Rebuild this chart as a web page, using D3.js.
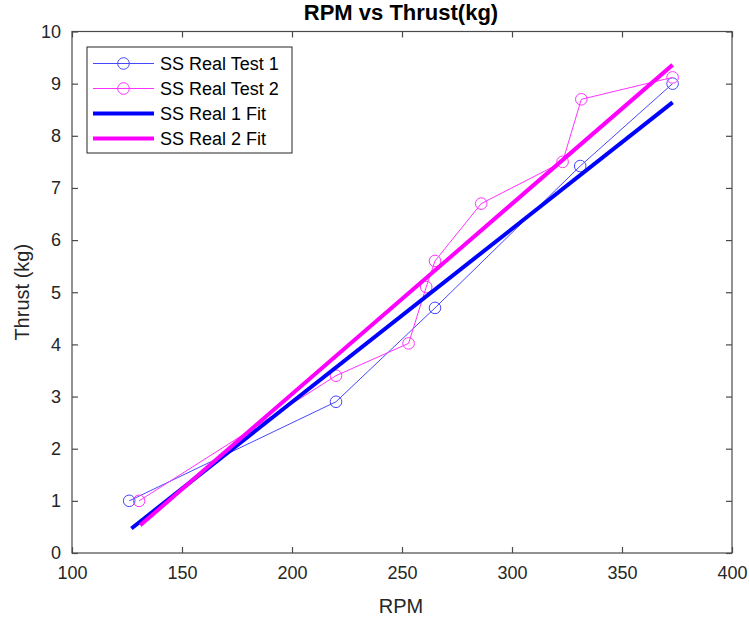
<!DOCTYPE html>
<html><head><meta charset="utf-8">
<script src="https://cdn.jsdelivr.net/npm/d3@7"></script>
<style>body{margin:0;background:#fff}svg{display:block}text{font-family:"Liberation Sans",Arial,sans-serif}</style>
</head><body><svg id="c" width="749" height="619"></svg>
<script>
// Data
const test1RPM = [126, 220, 265, 331, 373];
const test1Thrust = [1.0, 2.9, 4.7, 7.42, 9.0];
const test2RPM = [130.5, 220, 253, 261, 265, 286, 323, 331.5, 373];
const test2Thrust = [1.0, 3.4, 4.02, 5.1, 5.6, 6.7, 7.5, 8.7, 9.12];
const fit1RPM = [127, 373];
const fit1Thrust = [0.47, 8.64];
const fit2RPM = [131, 373];
const fit2Thrust = [0.53, 9.36];
const xTicks = [100, 150, 200, 250, 300, 350, 400];
const yTicks = [0, 1, 2, 3, 4, 5, 6, 7, 8, 9, 10];
const seriesNames = ["SS Real Test 1", "SS Real Test 2", "SS Real 1 Fit", "SS Real 2 Fit"];

const svg = d3.select("#c");
const L = 72, R = 732, T = 31.5, B = 553;
const x = d3.scaleLinear().domain([100, 400]).range([L, R]);
const y = d3.scaleLinear().domain([0, 10]).range([B, T]);
const axCol = "#4a4a4a", txtCol = "#262626";

// box
svg.append("rect").attr("x", L).attr("y", T).attr("width", R - L).attr("height", B - T)
  .attr("fill", "#fff").attr("stroke", axCol).attr("stroke-width", 1.2);

function styleAxis(g, hideText) {
  g.select(".domain").remove();
  g.selectAll("line").attr("stroke", axCol).attr("stroke-width", 1.2);
  g.selectAll("text").attr("fill", txtCol).style("font-size", "18px");
  if (hideText) g.selectAll("text").remove();
}
svg.append("g").attr("transform", `translate(0,${B})`)
  .call(d3.axisBottom(x).tickValues(xTicks).tickSize(-6).tickPadding(13).tickFormat(d3.format("d")))
  .call(g => styleAxis(g));
svg.append("g").attr("transform", `translate(0,${T})`)
  .call(d3.axisTop(x).tickValues(xTicks).tickSize(-6)).call(g => styleAxis(g, true));
svg.append("g").attr("transform", `translate(${L},0)`)
  .call(d3.axisLeft(y).tickValues(yTicks).tickSize(-6).tickPadding(11).tickFormat(d3.format("d")))
  .call(g => styleAxis(g));
svg.append("g").attr("transform", `translate(${R},0)`)
  .call(d3.axisRight(y).tickValues(yTicks).tickSize(-6)).call(g => styleAxis(g, true));

const line = d3.line().x(d => x(d[0])).y(d => y(d[1]));
const zip = (a, b) => a.map((v, i) => [v, b[i]]);

const c1 = "#4747ff", c2 = "#ff33ff";
// data series
function drawData(xs, ys, col) {
  const pts = zip(xs, ys);
  svg.append("path").datum(pts).attr("d", line).attr("fill", "none").attr("stroke", col).attr("stroke-width", 1);
  svg.append("g").selectAll("circle").data(pts).join("circle")
    .attr("cx", d => x(d[0])).attr("cy", d => y(d[1])).attr("r", 5.8)
    .attr("fill", "none").attr("stroke", col).attr("stroke-width", 1);
}
drawData(test1RPM, test1Thrust, c1);
drawData(test2RPM, test2Thrust, c2);
svg.append("path").datum(zip(fit1RPM, fit1Thrust)).attr("d", line).attr("fill", "none").attr("stroke", "#0000ff").attr("stroke-width", 4);
svg.append("path").datum(zip(fit2RPM, fit2Thrust)).attr("d", line).attr("fill", "none").attr("stroke", "#ff00ff").attr("stroke-width", 4);

// title & labels
svg.append("text").attr("x", 401).attr("y", 20).attr("text-anchor", "middle")
  .attr("fill", "#000").style("font-size", "22px").style("font-weight", "bold").text("RPM vs Thrust(kg)");
svg.append("text").attr("x", 401).attr("y", 613).attr("text-anchor", "middle")
  .attr("fill", txtCol).style("font-size", "20px").text("RPM");
svg.append("text").attr("transform", `translate(29,${(T + B) / 2}) rotate(-90)`).attr("text-anchor", "middle")
  .attr("fill", txtCol).style("font-size", "20px").text("Thrust (kg)");

// legend
const lg = svg.append("g");
lg.append("rect").attr("x", 87).attr("y", 47).attr("width", 205).attr("height", 106)
  .attr("fill", "#fff").attr("stroke", "#262626").attr("stroke-width", 1);
const legStyles = [
  {col: c1, w: 1, marker: true},
  {col: c2, w: 1, marker: true},
  {col: "#0000ff", w: 4, marker: false},
  {col: "#ff00ff", w: 4, marker: false}
];
seriesNames.forEach((name, i) => {
  const cy = 63.5 + i * 25;
  const s = legStyles[i];
  lg.append("line").attr("x1", 93).attr("x2", 154).attr("y1", cy).attr("y2", cy)
    .attr("stroke", s.col).attr("stroke-width", s.w);
  if (s.marker) lg.append("circle").attr("cx", 123.5).attr("cy", cy).attr("r", 5.8)
    .attr("fill", "none").attr("stroke", s.col).attr("stroke-width", 1);
  lg.append("text").attr("x", 160).attr("y", cy + 6.3).attr("fill", "#000").style("font-size", "18px").text(name);
});
</script></body></html>
